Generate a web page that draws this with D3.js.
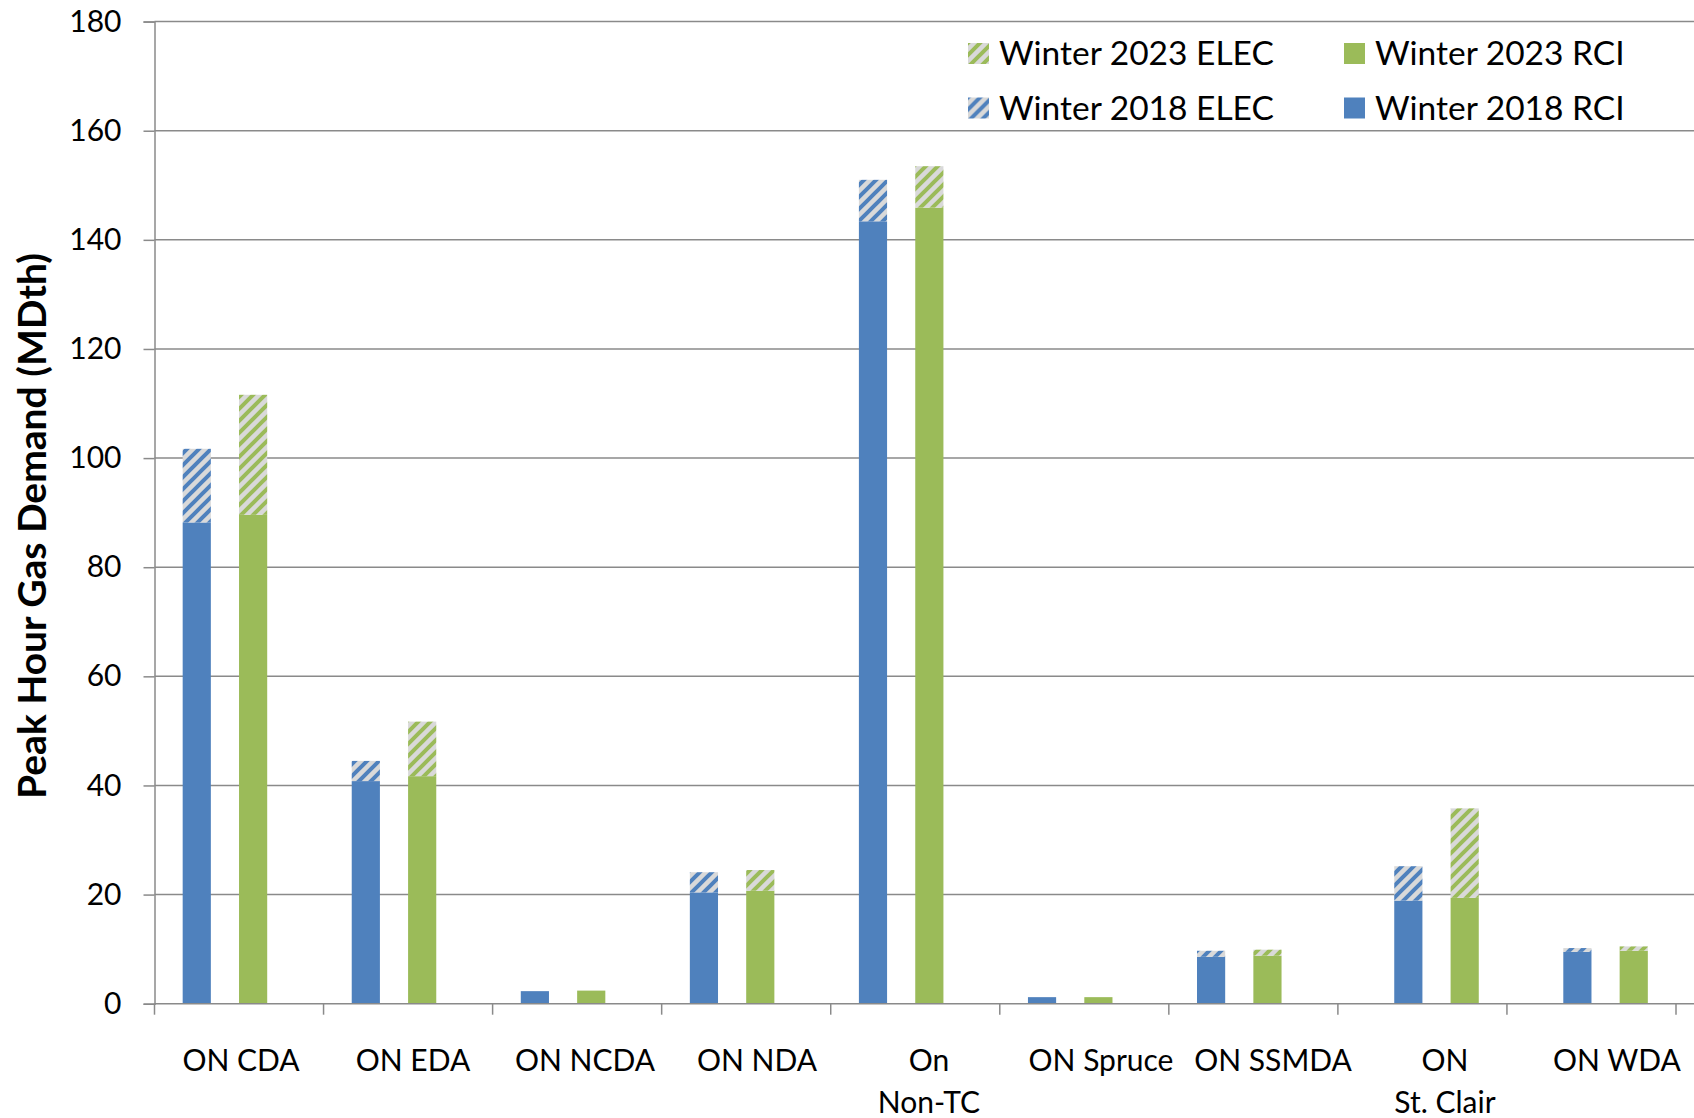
<!doctype html>
<html>
<head>
<meta charset='utf-8'>
<style>
  body { margin: 0; background: #fff; }
  svg text { font-family: Lato, 'Open Sans', sans-serif; fill: #000; }
</style>
</head>
<body>
<div id='chart'></div>
<script src='https://cdn.jsdelivr.net/npm/d3@7'></script>
<script>

// data
const categories = ['ON CDA', 'ON EDA', 'ON NCDA', 'ON NDA', 'On\nNon-TC', 'ON Spruce', 'ON SSMDA', 'ON\nSt. Clair', 'ON WDA'];
const rci2018  = [88.2, 40.8, 2.3, 20.4, 143.4, 1.2, 8.6, 18.9, 9.5];
const elec2018 = [13.5, 3.7, 0, 3.7, 7.6, 0, 1.1, 6.3, 0.7];
const rci2023  = [89.6, 41.7, 2.4, 20.7, 145.9, 1.2, 8.8, 19.4, 9.7];
const elec2023 = [22.0, 10.0, 0, 3.8, 7.6, 0, 1.1, 16.4, 0.8];
const yTicks = [0, 20, 40, 60, 80, 100, 120, 140, 160, 180];

const W = 1694, H = 1118;
const margin = {t: 21.6, l: 154.5, r: 18, b: 114.3};

const blue = '#4f81bd', green = '#9bbb59', gridCol = '#8a8a8a';

const svg = d3.select('#chart').append('svg')
  .attr('width', W)
  .attr('height', H);

// hatch patterns for ELEC parts
const defs = svg.append('defs');
function hatch(id, col){
  const p = defs.append('pattern')
    .attr('id', id)
    .attr('patternUnits', 'userSpaceOnUse')
    .attr('width', 12)
    .attr('height', 12);
  p.append('rect').attr('width', 12).attr('height', 12).attr('fill', '#d9d9d9');
  p.append('path')
    .attr('d', 'M-3,3 L3,-3 M0,12 L12,0 M9,15 L15,9')
    .attr('stroke', col)
    .attr('stroke-width', 4);
}
hatch('hatchBlue', blue);
hatch('hatchGreen', green);

const x = d3.scaleBand()
  .domain(categories)
  .range([margin.l, W - margin.r])
  .paddingInner(0).paddingOuter(0);

// 6 slots per category; bars normally in slots 1 and 3,
// the last two categories sit one slot further right (as in the source)
const xs = d3.scaleBand()
  .domain(d3.range(6))
  .range([0, x.bandwidth()])
  .paddingInner(0).paddingOuter(0);
const shifted = new Set(['ON\nSt. Clair', 'ON WDA']);
const slot = (c, k) => xs((k === '2018' ? 1 : 3) + (shifted.has(c) ? 1 : 0));

// category labels sit on a slightly wider spacing than the ticks
const xLab = d3.scalePoint()
  .domain(categories)
  .range([241, 1617]);

const y = d3.scaleLinear()
  .domain([0, 180])
  .range([H - margin.b, margin.t]);

// gridlines
svg.append('g')
  .selectAll('line')
  .data(yTicks.slice(1))
  .join('line')
  .attr('x1', margin.l).attr('x2', W)
  .attr('y1', d => y(d)).attr('y2', d => y(d))
  .attr('stroke', gridCol)
  .attr('stroke-width', 1.5);

// bars
const series = [
  {key: '2018', rci: rci2018, elec: elec2018, col: blue, pat: 'url(#hatchBlue)'},
  {key: '2023', rci: rci2023, elec: elec2023, col: green, pat: 'url(#hatchGreen)'}
];

series.forEach(s => {
  const g = svg.append('g');
  g.selectAll('rect.rci')
    .data(categories)
    .join('rect')
    .attr('class', 'rci')
    .attr('x', (c) => x(c) + slot(c, s.key))
    .attr('width', xs.bandwidth())
    .attr('y', (c, i) => y(s.rci[i]))
    .attr('height', (c, i) => y(0) - y(s.rci[i]))
    .attr('fill', s.col);
  g.selectAll('rect.elec')
    .data(categories)
    .join('rect')
    .attr('class', 'elec')
    .attr('x', (c) => x(c) + slot(c, s.key))
    .attr('width', xs.bandwidth())
    .attr('y', (c, i) => y(s.rci[i] + s.elec[i]))
    .attr('height', (c, i) => y(s.rci[i]) - y(s.rci[i] + s.elec[i]))
    .attr('fill', s.pat);
});

// y axis
const yAxis = svg.append('g')
  .attr('transform', `translate(${margin.l},0)`)
  .call(d3.axisLeft(y).tickValues(yTicks).tickSize(11).tickPadding(22));
yAxis.select('.domain').attr('stroke', gridCol).attr('stroke-width', 1.5);
yAxis.selectAll('.tick line').attr('stroke', gridCol).attr('stroke-width', 1.5);
yAxis.selectAll('.tick text')
  .style('font-family', 'Lato, sans-serif')
  .style('font-size', '30px');

// x axis: baseline plus category boundary ticks
svg.append('line')
  .attr('x1', margin.l).attr('x2', W)
  .attr('y1', y(0)).attr('y2', y(0))
  .attr('stroke', gridCol).attr('stroke-width', 1.5);

const bounds = categories.map(c => x(c)).concat([x(categories[categories.length - 1]) + x.bandwidth()]);
svg.append('g')
  .selectAll('line')
  .data(bounds)
  .join('line')
  .attr('x1', d => d).attr('x2', d => d)
  .attr('y1', y(0)).attr('y2', y(0) + 11)
  .attr('stroke', gridCol).attr('stroke-width', 1.5);

svg.append('g')
  .selectAll('text')
  .data(categories)
  .join('text')
  .attr('text-anchor', 'middle')
  .style('font-size', '30px')
  .attr('transform', c => `translate(${xLab(c)},${y(0) + 67})`)
  .each(function(c){
    const t = d3.select(this);
    c.split('\n').forEach((line, i) => {
      t.append('tspan').attr('x', 0).attr('y', i * 42).text(line);
    });
  });

// y title
svg.append('text')
  .attr('transform', `translate(46,526) rotate(-90)`)
  .attr('text-anchor', 'middle')
  .style('font-size', '39px')
  .style('font-weight', 'bold')
  .text('Peak Hour Gas Demand (MDth)');

// legend
const legendItems = [
  {label: 'Winter 2023 ELEC', fill: 'url(#hatchGreen)', col: 0, row: 0},
  {label: 'Winter 2023 RCI', fill: green, col: 1, row: 0},
  {label: 'Winter 2018 ELEC', fill: 'url(#hatchBlue)', col: 0, row: 1},
  {label: 'Winter 2018 RCI', fill: blue, col: 1, row: 1}
];
const legend = svg.append('g');
const li = legend.selectAll('g')
  .data(legendItems)
  .join('g')
  .attr('transform', d => `translate(${d.col ? 1344 : 968},${d.row ? 97.5 : 43})`);
li.append('rect')
  .attr('width', 21).attr('height', 21)
  .attr('fill', d => d.fill);
li.append('text')
  .attr('x', 31).attr('y', 22)
  .style('font-size', '33.5px')
  .text(d => d.label);

</script>
</body>
</html>
